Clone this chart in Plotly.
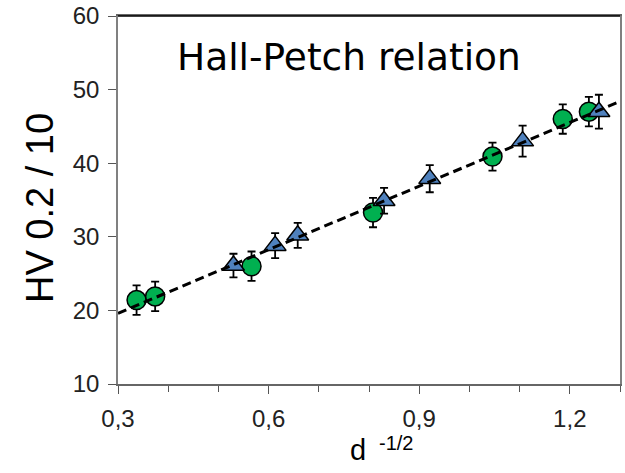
import plotly.graph_objects as go

# Data
circle_x = [0.337, 0.374, 0.566, 0.808, 1.046, 1.186, 1.238]
circle_y = [21.4, 21.9, 26.0, 33.3, 40.9, 46.0, 47.0]
circle_err = [2.0, 2.0, 2.0, 2.0, 1.9, 2.0, 2.0]

tri_x = [0.530, 0.613, 0.658, 0.830, 0.921, 1.106, 1.258]
tri_y = [26.1, 28.8, 30.2, 34.9, 37.9, 43.0, 47.0]
tri_err = [1.6, 1.7, 1.7, 1.75, 1.85, 2.1, 2.3]

fit_x = [0.3, 1.3]
fit_y = [19.6, 48.4]

fig = go.Figure()

fig.add_trace(go.Scatter(
    x=circle_x, y=circle_y, mode="markers",
    marker=dict(symbol="circle", size=19, color="#00B050",
                line=dict(color="black", width=1.5)),
    error_y=dict(type="data", array=circle_err, color="black",
                 thickness=1.8, width=4),
    showlegend=False,
))

fig.add_trace(go.Scatter(
    x=tri_x, y=tri_y, mode="markers",
    marker=dict(symbol="triangle-up", size=19, color="#4F81BD",
                line=dict(color="black", width=1.5)),
    error_y=dict(type="data", array=tri_err, color="black",
                 thickness=1.8, width=4),
    showlegend=False,
))

fig.add_trace(go.Scatter(
    x=fit_x, y=fit_y, mode="lines",
    line=dict(color="black", width=3, dash="9px,5px"),
    showlegend=False,
))

TICK_FONT = dict(family="Liberation Sans, Arial, sans-serif", size=24, color="#222222")

fig.update_layout(
    width=625, height=473,
    margin=dict(l=118, r=5, t=16, b=89),
    paper_bgcolor="white", plot_bgcolor="white",
    separators=", ",
    font=dict(family="Liberation Sans, Arial, sans-serif", color="black", size=24),
    xaxis=dict(
        range=[0.3, 1.3], tick0=0.3, dtick=0.3, tickformat=".1f",
        ticks="outside", ticklen=8, tickcolor="#555555", tickwidth=1,
        showline=True, linecolor="#666666", linewidth=1.5, mirror=True,
        showgrid=False, zeroline=False, automargin=False,
        minor=dict(dtick=0.1, tick0=0.3, ticks="outside", ticklen=6,
                   tickcolor="#555555", showgrid=False),
        tickfont=TICK_FONT,
        ticklabelstandoff=4,
    ),
    yaxis=dict(
        range=[10, 60], dtick=10,
        ticks="outside", ticklen=8, tickcolor="#555555", tickwidth=1,
        showline=True, linecolor="#808080", linewidth=1.5, mirror=True,
        showgrid=False, zeroline=False, automargin=False,
        tickfont=TICK_FONT,
        ticklabelstandoff=4,
    ),
    shapes=[
        dict(type="line", xref="paper", yref="paper", x0=0, x1=1, y0=1, y1=1,
             line=dict(color="black", width=1.5)),
    ],
)

# annotations positioned in pixels, converted to paper coordinates
W, H = 625, 473
l, r, t, b = 118, 5, 16, 89
pw, ph = W - l - r, H - t - b


def ann(text, px, py, size, family=None, angle=0):
    f = dict(size=size, color="black")
    if family:
        f["family"] = family
    return dict(text=text, x=(px - l) / pw, y=(H - b - py) / ph,
                xref="paper", yref="paper", xanchor="center", yanchor="middle",
                showarrow=False, textangle=angle, font=f)


fig.update_layout(annotations=[
    ann("Hall-Petch relation", 349, 57, 37.5, "DejaVu Sans, Verdana"),
    ann("HV 0.2 / 10", 40, 208, 38, angle=-90),
    ann("d", 358, 450, 29),
    ann("-1/2", 396, 443, 20),
])

fig.write_html("out.html")
